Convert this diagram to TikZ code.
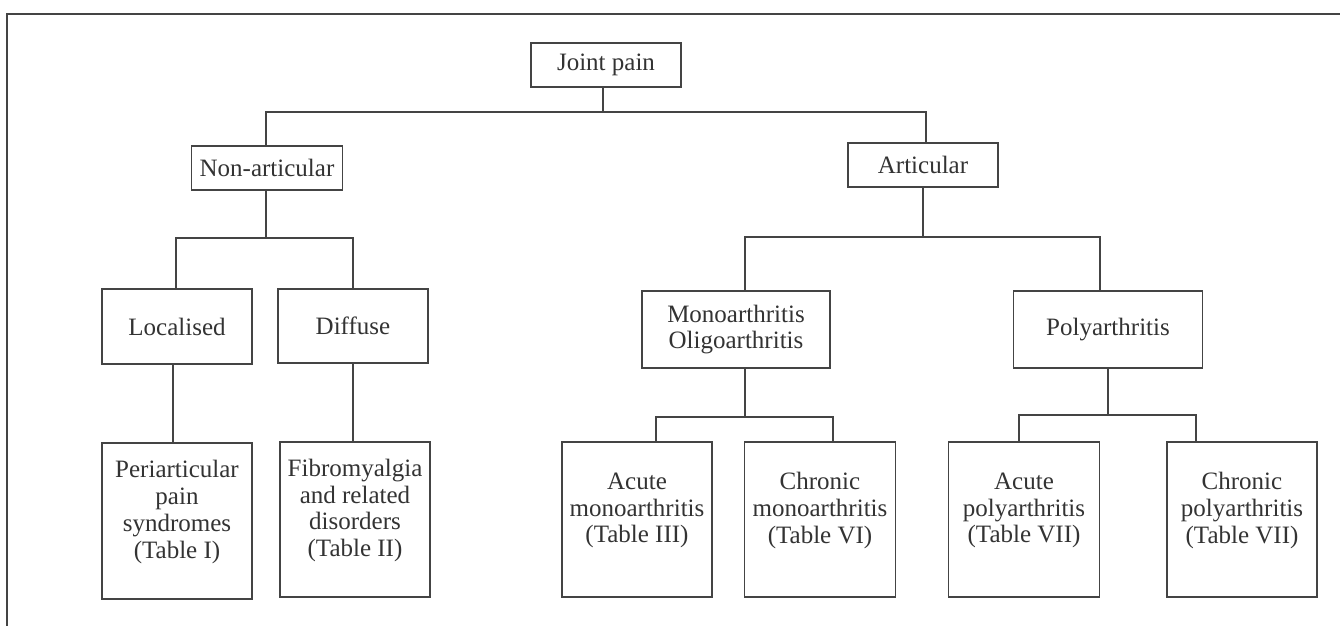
\documentclass[tikz,border=0pt]{standalone}
\usepackage{fontspec}
\setmainfont{Liberation Serif}
\definecolor{ink}{HTML}{333333}
\definecolor{rule}{HTML}{444444}
\newcommand{\tallcell}[1]{\parbox{146pt}{\centering #1\par\vspace{18pt}}}
\begin{document}
\begin{tikzpicture}[x=1pt,y=-1pt,
  line width=1.3pt,
  box/.style={draw=rule, line width=1.3pt, text=ink, align=center, inner sep=0pt,
    font=\fontsize{25pt}{26.7pt}\selectfont},
  wire/.style={draw=rule, line width=1.3pt}]
\useasboundingbox (0,0) rectangle (1340,625);
\fill[white] (0,0) rectangle (1340,625);
% outer frame, running off the right and bottom edges
\draw[rule, line width=1.3pt] (7,640) -- (7,14) -- (1360,14);

% level 0
\node[box, minimum width=150, minimum height=44] (root) at (606,65) {Joint pain};
% level 1
\node[box, minimum width=151, minimum height=44] (nonart) at (267,168) {Non-articular};
\node[box, minimum width=150, minimum height=44] (art) at (923,165) {Articular};
% level 2
\node[box, minimum width=150, minimum height=75] (loc) at (177,326.5) {Localised};
\node[box, minimum width=150, minimum height=74] (dif) at (353,326) {Diffuse};
\node[box, minimum width=188, minimum height=77] (mono) at (736,329.5) {Monoarthritis\\Oligoarthritis};
\node[box, minimum width=189, minimum height=77] (poly) at (1108,329.5) {Polyarthritis};
% level 3
\node[box, minimum width=150, minimum height=156] (peri) at (177,521) {\tallcell{Periarticular\\pain\\syndromes\\(Table I)}};
\node[box, minimum width=150, minimum height=155] (fib) at (355,519.5) {\tallcell{Fibromyalgia\\and related\\disorders\\(Table II)}};
\node[box, minimum width=150, minimum height=155] (acm) at (637,519.5) {\tallcell{Acute\\monoarthritis\\(Table III)}};
\node[box, minimum width=151, minimum height=155] (chm) at (820,519.5) {\tallcell{Chronic\\monoarthritis\\(Table VI)}};
\node[box, minimum width=151, minimum height=155] (acp) at (1024,519.5) {\tallcell{Acute\\polyarthritis\\(Table VII)}};
\node[box, minimum width=150, minimum height=155] (chp) at (1242,519.5) {\tallcell{Chronic\\polyarthritis\\(Table VII)}};

% bus lines
\coordinate (b0) at (0,112);
\coordinate (b1) at (0,238);
\coordinate (b2) at (0,237);
\coordinate (b3) at (0,417);
\coordinate (b4) at (0,415);

% connectors
\draw[wire] ([xshift=-3]root.south) -- ([xshift=-3]root.south |- b0);
\draw[wire] ([xshift=-1]nonart.north) |- ([xshift=3]art.north |- b0) -- ([xshift=3]art.north);

\draw[wire] ([xshift=-1]nonart.south) -- ([xshift=-1]nonart.south |- b1);
\draw[wire] ([xshift=-1]loc.north) |- (dif.north |- b1) -- (dif.north);
\draw[wire] ([xshift=-4]loc.south) -- ([xshift=-4]loc.south |- peri.north);
\draw[wire] (dif.south) -- (dif.south |- fib.north);

\draw[wire] (art.south) -- (art.south |- b2);
\draw[wire] ([xshift=9]mono.north) |- ([xshift=-8]poly.north |- b2) -- ([xshift=-8]poly.north);

\draw[wire] ([xshift=9]mono.south) -- ([xshift=9]mono.south |- b3);
\draw[wire] ([xshift=19]acm.north) |- ([xshift=13]chm.north |- b3) -- ([xshift=13]chm.north);

\draw[wire] (poly.south) -- (poly.south |- b4);
\draw[wire] ([xshift=-5]acp.north) |- ([xshift=-46]chp.north |- b4) -- ([xshift=-46]chp.north);
\end{tikzpicture}
\end{document}
